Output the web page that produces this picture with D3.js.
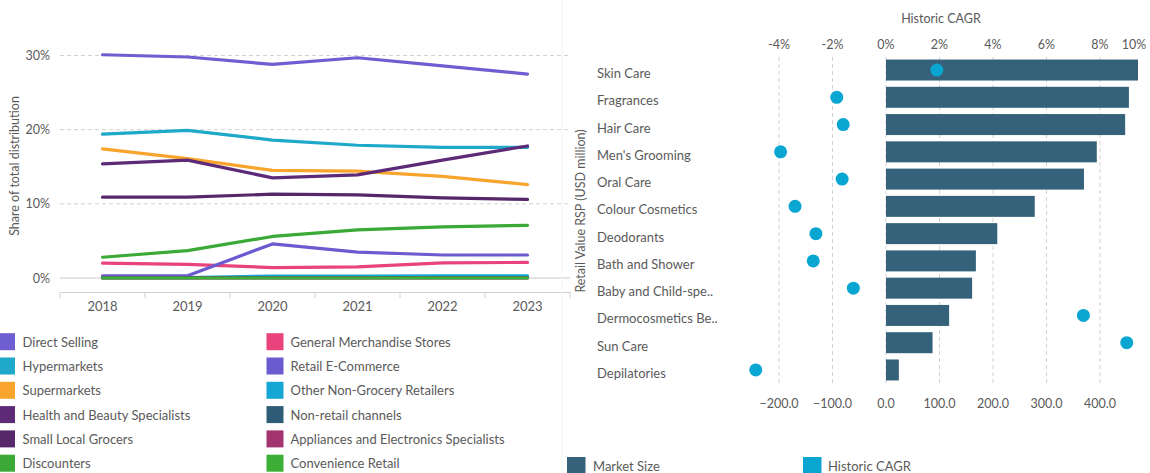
<!DOCTYPE html>
<html>
<head>
<meta charset="utf-8">
<script src="https://cdn.jsdelivr.net/npm/d3@7/dist/d3.min.js"></script>
<style>
  html, body { margin: 0; padding: 0; background: #fff; }
  svg { display: block; font-family: Lato, "Open Sans", sans-serif; }
</style>
</head>
<body>
<svg id="chart" width="1150" height="473"></svg>
<script>
// ---- Distribution share by channel (%), 2018–2023 ----
const years = ["2018", "2019", "2020", "2021", "2022", "2023"];
const shareTicks = [0, 10, 20, 30];

const directSelling        = [30.1, 29.8, 28.8, 29.7, 28.6, 27.5];
const hypermarkets         = [19.4, 19.9, 18.6, 17.9, 17.6, 17.6];
const supermarkets         = [17.4, 16.1, 14.5, 14.4, 13.7, 12.6];
const healthBeauty         = [15.4, 15.9, 13.5, 13.9, 15.9, 17.8];
const smallLocalGrocers    = [10.9, 10.9, 11.3, 11.2, 10.8, 10.6];
const discounters          = [2.8, 3.7, 5.6, 6.5, 6.9, 7.1];
const generalMerchandise   = [2.0, 1.85, 1.4, 1.5, 2.05, 2.1];
const retailECommerce      = [0.3, 0.3, 4.6, 3.5, 3.1, 3.1];
const otherNonGrocery      = [0.05, 0.05, 0.25, 0.25, 0.3, 0.3];
const nonRetail            = [0.05, 0.05, 0.05, 0.05, 0.05, 0.05];
const appliancesElectronic = [0.0, 0.0, 0.0, 0.0, 0.0, 0.0];
const convenienceRetail    = [0.0, 0.0, 0.0, 0.0, 0.0, 0.0];

const channelNames = [
  "Direct Selling", "Hypermarkets", "Supermarkets", "Health and Beauty Specialists",
  "Small Local Grocers", "Discounters", "General Merchandise Stores", "Retail E-Commerce",
  "Other Non-Grocery Retailers", "Non-retail channels", "Appliances and Electronics Specialists",
  "Convenience Retail"
];
const channelValues = [
  directSelling, hypermarkets, supermarkets, healthBeauty, smallLocalGrocers, discounters,
  generalMerchandise, retailECommerce, otherNonGrocery, nonRetail, appliancesElectronic,
  convenienceRetail
];
const channelColors = [
  "#6e5ed1", "#1ea8ca", "#f9a42c", "#5d2a78", "#572869", "#3aa936",
  "#e8437c", "#6a5bd0", "#14a6d4", "#2e5c76", "#a2356f", "#3cb036"
];

// ---- Beauty categories: market size and historic CAGR ----
const categories = [
  "Skin Care", "Fragrances", "Hair Care", "Men's Grooming", "Oral Care",
  "Colour Cosmetics", "Deodorants", "Bath and Shower", "Baby and Child-spe..",
  "Dermocosmetics Be..", "Sun Care", "Depilatories"
];
const marketSize   = [471, 454, 447, 394, 370, 278, 208, 168, 161, 118, 87, 24];
const historicCagr = [1.9, -1.84, -1.6, -3.94, -1.64, -3.4, -2.62, -2.72, -1.22, 7.38, 9.0, -4.87];
const cagrTicks    = [-4, -2, 0, 2, 4, 6, 8, 10];
const marketTicks  = [-200, -100, 0, 100, 200, 300, 400];

const textColor = "#5a5a5a";
const gridColor = "#d2d2d2";

const svg = d3.select("#chart");

// ================= Left: line chart =================
const left = svg.append("g");
const x = d3.scaleBand().domain(years).range([60, 570]);
const y = d3.scaleLinear().domain([0, 30]).range([278, 55.5]);

// horizontal grid
left.selectAll("line.hgrid")
  .data(shareTicks)
  .join("line")
  .attr("x1", 60).attr("x2", 570)
  .attr("y1", d => y(d)).attr("y2", d => y(d))
  .attr("stroke", d => d === 0 ? "#c8c8c8" : gridColor)
  .attr("stroke-width", 1)
  .attr("stroke-dasharray", d => d === 0 ? null : "4,3");

// y labels
left.selectAll("text.ylab")
  .data(shareTicks)
  .join("text")
  .attr("x", 50).attr("y", d => y(d))
  .attr("text-anchor", "end")
  .attr("dominant-baseline", "central")
  .attr("font-size", 12.5)
  .attr("fill", textColor)
  .text(d => d + "%");

// y title
left.append("text")
  .attr("transform", "translate(14,166) rotate(-90)")
  .attr("text-anchor", "middle")
  .attr("dominant-baseline", "central")
  .attr("font-size", 12.5)
  .attr("fill", textColor)
  .text("Share of total distribution");

// x axis
const xAxisG = left.append("g").attr("transform", "translate(0,292)")
  .call(d3.axisBottom(x).tickSize(0).tickPadding(10));
xAxisG.select(".domain").attr("stroke", "#d0d0d0");
xAxisG.selectAll("text").attr("font-size", 13).attr("fill", textColor)
  .attr("font-family", "Lato, sans-serif");
const boundaries = years.map(d => x(d)).concat([x.range()[1]]);
xAxisG.selectAll("line.bnd")
  .data(boundaries)
  .join("line")
  .attr("class", "bnd")
  .attr("x1", d => d).attr("x2", d => d)
  .attr("y1", 0).attr("y2", 6)
  .attr("stroke", "#d0d0d0");

// lines
const line = d3.line()
  .x((d, i) => x(years[i]) + x.bandwidth() / 2)
  .y(d => y(d));

left.selectAll("path.series")
  .data(channelValues)
  .join("path")
  .attr("class", "series")
  .attr("d", d => line(d))
  .attr("fill", "none")
  .attr("stroke", (d, i) => channelColors[i])
  .attr("stroke-width", 3.2)
  .attr("stroke-linejoin", "round")
  .attr("stroke-linecap", "round");

// legend (two columns of six)
const legend = left.append("g");
channelNames.forEach((name, i) => {
  const col = Math.floor(i / 6), row = i % 6;
  const lx = col === 0 ? 0 : 266.5;
  const cy = 341.7 + row * 24.3;
  legend.append("rect")
    .attr("x", lx).attr("y", cy - 8.5)
    .attr("width", col === 0 ? 15 : 17).attr("height", 17)
    .attr("fill", channelColors[i]);
  legend.append("text")
    .attr("x", lx + (col === 0 ? 22.5 : 24)).attr("y", cy)
    .attr("dominant-baseline", "central")
    .attr("font-size", 13)
    .attr("fill", textColor)
    .text(name);
});

// ================= Right: bars + CAGR dots =================
const right = svg.append("g");

// faint divider between panels
right.append("line")
  .attr("x1", 562).attr("x2", 562).attr("y1", 0).attr("y2", 473)
  .attr("stroke", "#f5f5f5");

const yb = d3.scaleBand().domain(categories).range([56.4, 383.6])
  .paddingInner(0.23).paddingOuter(0.115);
const xm = d3.scaleLinear().domain([-200, 400]).range([779, 1100]);
const xc = d3.scaleLinear().domain([-4, 8]).range([779, 1100]);

// vertical dashed grid (CAGR ticks that fall inside the plot)
right.selectAll("line.vgrid")
  .data(cagrTicks.filter(t => xc(t) <= 1140))
  .join("line")
  .attr("x1", d => xc(d)).attr("x2", d => xc(d))
  .attr("y1", 57).attr("y2", 383)
  .attr("stroke", gridColor)
  .attr("stroke-dasharray", "4,3");

// top CAGR labels; the last one is kept inside the page edge
right.selectAll("text.ctick")
  .data(cagrTicks)
  .join("text")
  .attr("x", d => Math.min(xc(d), 1134))
  .attr("y", 44)
  .attr("text-anchor", "middle")
  .attr("dominant-baseline", "central")
  .attr("font-size", 12.5)
  .attr("fill", textColor)
  .text(d => d + "%");

right.append("text")
  .attr("x", 941).attr("y", 18)
  .attr("text-anchor", "middle")
  .attr("dominant-baseline", "central")
  .attr("font-size", 12.5)
  .attr("fill", textColor)
  .text("Historic CAGR");

// bottom market-size labels
right.selectAll("text.mtick")
  .data(marketTicks)
  .join("text")
  .attr("x", d => xm(d))
  .attr("y", 403)
  .attr("text-anchor", "middle")
  .attr("dominant-baseline", "central")
  .attr("font-size", 12.5)
  .attr("fill", textColor)
  .text(d => d3.format(".1f")(d));

// category labels
right.selectAll("text.cat")
  .data(categories)
  .join("text")
  .attr("x", 597)
  .attr("y", d => yb(d) + yb.bandwidth() / 2 + 3)
  .attr("dominant-baseline", "central")
  .attr("font-size", 13)
  .attr("fill", textColor)
  .text(d => d);

// axis title
right.append("text")
  .attr("transform", "translate(580,211) rotate(-90)")
  .attr("text-anchor", "middle")
  .attr("dominant-baseline", "central")
  .attr("font-size", 12.5)
  .attr("fill", textColor)
  .text("Retail Value RSP (USD million)");

// bars
right.selectAll("rect.bar")
  .data(categories)
  .join("rect")
  .attr("class", "bar")
  .attr("x", xm(0))
  .attr("y", d => yb(d))
  .attr("width", (d, i) => xm(marketSize[i]) - xm(0))
  .attr("height", yb.bandwidth())
  .attr("fill", "#35627a");

// CAGR dots
right.selectAll("circle.dot")
  .data(categories)
  .join("circle")
  .attr("cx", (d, i) => xc(historicCagr[i]))
  .attr("cy", d => yb(d) + yb.bandwidth() / 2)
  .attr("r", 6.5)
  .attr("fill", "#0aa6d2");

// legend
const rl = right.append("g");
[["Market Size", "#35627a", 567, 593], ["Historic CAGR", "#0aa6d2", 803, 828]].forEach(([label, color, sx, tx]) => {
  rl.append("rect").attr("x", sx).attr("y", 457).attr("width", 18.5).attr("height", 18.5).attr("fill", color);
  rl.append("text").attr("x", tx).attr("y", 466)
    .attr("dominant-baseline", "central")
    .attr("font-size", 13)
    .attr("fill", textColor)
    .text(label);
});
</script>
</body>
</html>
